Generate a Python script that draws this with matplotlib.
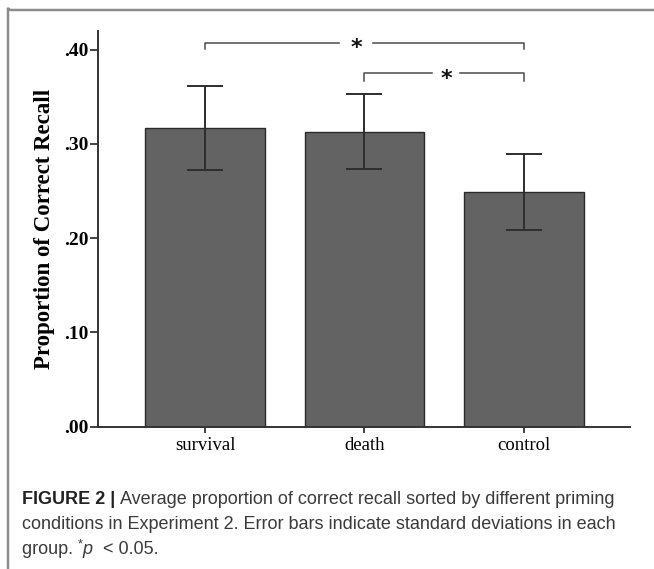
import matplotlib
matplotlib.use('Agg')
import matplotlib.pyplot as plt
from matplotlib.patches import FancyBboxPatch

# data
groups = ['survival', 'death', 'control']
recall_mean = [0.317, 0.313, 0.249]
recall_sd = [0.045, 0.040, 0.040]
yticks = [0.0, 0.1, 0.2, 0.3, 0.4]
ytick_labels = ['.00', '.10', '.20', '.30', '.40']
# significant pairs: (group a, group b, bracket height, star position)
sig_pairs = [(0, 2, 0.4075, 0.947), (1, 2, 0.375, 1.511)]

caption = [
    [('FIGURE 2 | ', {'weight': 'bold', 'color': '#222222'}),
     ('Average proportion of correct recall sorted by different priming', {})],
    [('conditions in Experiment 2. Error bars indicate standard deviations in each', {})],
    [('group. ', {}), ('*', {'size': 9, 'dy': 5}), ('p', {'style': 'italic'}), ('  < 0.05.', {})],
]

fig = plt.figure(figsize=(6.54, 5.69), dpi=100)

# rounded panel frame (only top/left visible)
frame = FancyBboxPatch((8 / 654, 1 - 10 / 569), 1.0, -1.2, transform=fig.transFigure,
                       boxstyle='round,pad=0,rounding_size=0.004', facecolor='none',
                       edgecolor='#8c8c8c', linewidth=1.8, clip_on=False)
fig.patches.append(frame)

ax = fig.add_axes([98 / 654, 1 - 426.5 / 569, 532 / 654, 395.5 / 569])
x = list(range(len(groups)))
ax.bar(x, recall_mean, width=0.75, color='#636363', edgecolor='#2a2a2a', linewidth=1.0, zorder=2)
ax.errorbar(x, recall_mean, yerr=recall_sd, fmt='none', ecolor='#2e2e2e',
            elinewidth=1.4, capsize=13, capthick=1.4, zorder=3)

ax.set_xlim(-0.671, 2.665)
ax.set_ylim(0, 0.42)
ax.set_xticks(x)
ax.set_xticklabels(groups, fontfamily='Liberation Serif', fontsize=13.5)
ax.set_yticks(yticks)
ax.set_yticklabels(ytick_labels, fontfamily='Liberation Serif', fontsize=14, fontweight='bold')
ax.tick_params(axis='y', direction='out', length=6, width=1.3, color='#333333', pad=1)
ax.tick_params(axis='x', direction='out', length=4.5, width=1.3, color='#333333', pad=3)
for s in ['top', 'right']:
    ax.spines[s].set_visible(False)
for s in ['left', 'bottom']:
    ax.spines[s].set_color('#333333')
    ax.spines[s].set_linewidth(1.4)
ax.set_ylabel('Proportion of Correct Recall', fontfamily='Liberation Serif',
              fontsize=16.5, fontweight='bold')
ax.yaxis.set_label_coords(-0.08, 0.5)

# significance brackets
for a, b, h, star in sig_pairs:
    gap = 0.107 if a == 0 else 0.088
    drop = 0.0065 if a == 0 else 0.0085
    lc = '#4a4a4a'
    ax.plot([a, a, star - gap], [h - drop, h, h], color=lc, lw=1.1, clip_on=False)
    ax.plot([star + gap, b, b], [h, h, h - drop], color=lc, lw=1.1, clip_on=False)
    ax.text(star, h - 0.0057, '*', ha='center', va='center', fontsize=16,
            fontweight='bold', color='#111111', fontfamily='DejaVu Sans', clip_on=False)

# caption with mixed styles
fig.canvas.draw()
renderer = fig.canvas.get_renderer()
line_y = [1 - 500 / 569, 1 - 524.5 / 569, 1 - 549 / 569]
for y0, pieces in zip(line_y, caption):
    xpos = 22 / 654
    for txt, props in pieces:
        props = dict(props)
        dy = props.pop('dy', 0)
        kw = dict(fontfamily='Liberation Sans', fontsize=props.pop('size', 13.0),
                  color=props.pop('color', '#3a3a3a'))
        kw.update(props)
        t = fig.text(xpos, y0 + dy / 569, txt, va='center', ha='left', **kw)
        bb = t.get_window_extent(renderer=renderer)
        xpos += bb.width / fig.bbox.width

fig.savefig('out.png', dpi=100)
